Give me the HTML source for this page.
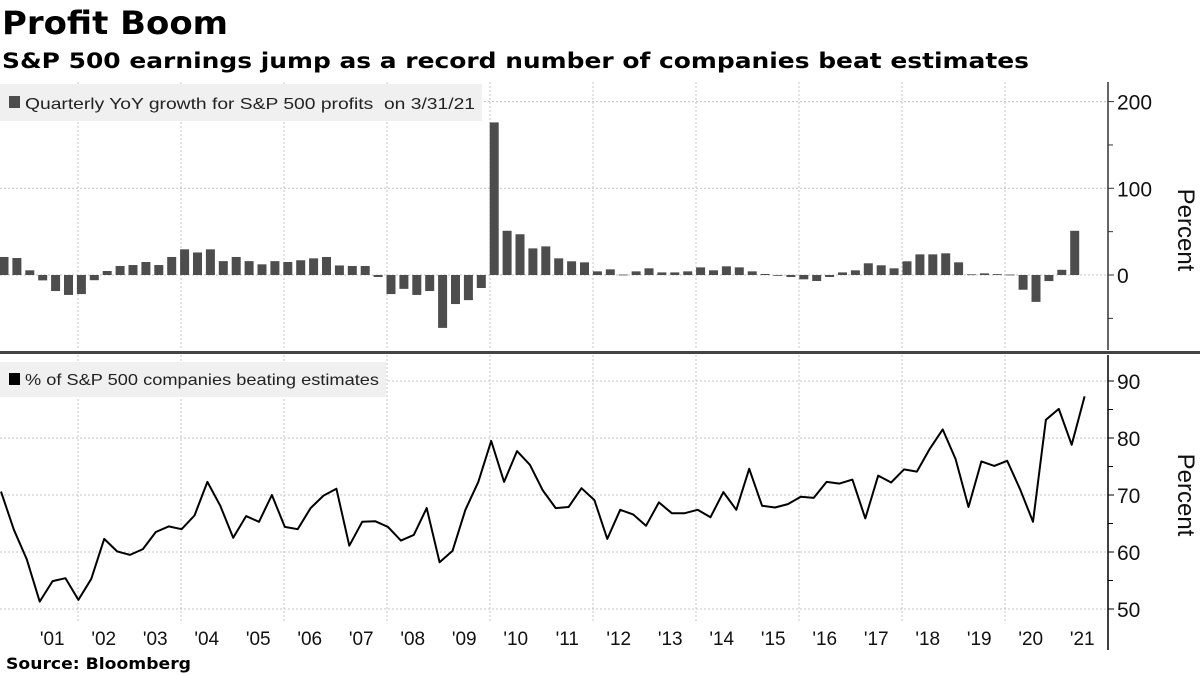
<!DOCTYPE html>
<html><head><meta charset="utf-8"><style>
html,body{margin:0;padding:0;background:#fff;}
svg{display:block;font-family:"Liberation Sans","DejaVu Sans",sans-serif;}
</style></head><body>
<svg id="chart" width="1200" height="675" viewBox="0 0 1200 675" xmlns="http://www.w3.org/2000/svg">
<text x="2" y="34" font-family="DejaVu Sans, sans-serif" font-weight="bold" font-size="32" textLength="226" lengthAdjust="spacingAndGlyphs">Profit Boom</text>
<text x="2" y="68" font-family="DejaVu Sans, sans-serif" font-weight="bold" font-size="21" textLength="1027" lengthAdjust="spacingAndGlyphs">S&amp;P 500 earnings jump as a record number of companies beat estimates</text>
<g id="grid"></g>
<rect x="0" y="84" width="482" height="37" fill="#f0f0f0"/>
<rect x="9" y="96" width="11" height="12" fill="#4d4d4d"/>
<text x="25" y="109" font-size="16" fill="#222" textLength="450" lengthAdjust="spacingAndGlyphs">Quarterly YoY growth for S&amp;P 500 profits&#160; on 3/31/21</text>
<g id="bars"></g>
<rect x="0" y="362" width="386" height="35" fill="#f0f0f0"/>
<rect x="9" y="373" width="11" height="12" fill="#000"/>
<text x="25" y="385" font-size="16" fill="#222" textLength="354" lengthAdjust="spacingAndGlyphs">% of S&amp;P 500 companies beating estimates</text>
<path id="line" fill="none" stroke="#000" stroke-width="2" stroke-linejoin="round"/>
<g id="axes"></g>
<rect x="0" y="351" width="1200" height="3" fill="#444"/>
<text transform="translate(1178,230) rotate(90)" text-anchor="middle" font-size="24" fill="#111">Percent</text>
<text transform="translate(1178,495) rotate(90)" text-anchor="middle" font-size="24" fill="#111">Percent</text>
<text x="6" y="669" font-family="DejaVu Sans, sans-serif" font-weight="bold" font-size="16" textLength="185" lengthAdjust="spacingAndGlyphs">Source:  Bloomberg</text>
</svg>
<script>
const years = ['01','02','03','04','05','06','07','08','09','10','11','12','13','14','15','16','17','18','19','20','21'];
const topTicks = [200, 100, 0];
const topMinor = [150, 50, -50];
const bottomTicks = [90, 80, 70, 60, 50];
const bottomMinor = [85, 75, 65, 55];
const growth = [20.8,19.6,5.4,-6.2,-18.5,-23,-22,-6,4.6,10.4,11.5,15,11.5,20.8,29.6,26,29.6,16,20.8,16,12.3,16,15,17,19.2,20.8,11,10.4,10.4,-2.3,-22,-16,-23,-18.5,-61,-33.5,-29,-15,176,51,47,30.7,33,19.2,15.8,14.6,4.2,6.5,0.5,4.2,7.7,3,3,4.2,8.8,5.4,10,8.8,4.2,1.2,-0.5,-2.3,-5,-6.9,-2.3,3,5.4,13.5,11.2,7.7,15.8,23.8,23.8,25,14.6,0.8,1.9,1,0.5,-17,-31,-7,6,51];
const beatPct = [70.6,63.9,58.7,51.3,54.9,55.4,51.6,55.3,62.3,60.1,59.5,60.5,63.5,64.5,64.0,66.4,72.3,68.1,62.5,66.3,65.3,70.0,64.4,64.0,67.7,69.9,71.1,61.1,65.3,65.4,64.4,62.0,63.0,67.7,58.2,60.2,67.4,72.3,79.5,72.3,77.7,75.3,70.8,67.7,67.9,71.2,69.1,62.3,67.4,66.6,64.6,68.7,66.8,66.8,67.4,66.1,70.5,67.4,74.6,68.1,67.8,68.4,69.7,69.5,72.3,72.0,72.7,65.9,73.4,72.2,74.5,74.1,78.1,81.5,76.3,67.9,75.9,75.1,76.0,71.0,65.3,83.2,85.1,78.8,87.3];

const NS='http://www.w3.org/2000/svg';
function el(tag, attrs, parent){const e=document.createElementNS(NS,tag);for(const k in attrs)e.setAttribute(k,attrs[k]);parent.appendChild(e);return e;}
const yearX = y => -25 + (y - 2000) * 51.5;
const qX = i => 1 + i * 12.9;
const yTop = v => 275 - v * 0.867;
const yBot = v => 381 + (90 - v) * 5.7;

const grid = document.getElementById('grid');
for (let y = 2002; y <= 2020; y += 2) {
  const x = yearX(y);
  const g1 = el('line',{x1:x,x2:x,y1:82,y2:350,stroke:'#c4c4c4','stroke-dasharray':'2,2','stroke-width':1},grid);
  
  
  const g2 = el('line',{x1:x,x2:x,y1:355,y2:622,stroke:'#c4c4c4','stroke-dasharray':'2,2','stroke-width':1},grid);
  
  
}
topTicks.forEach(v=>{
  const g = el('line',{x1:0,x2:1108,y1:yTop(v),y2:yTop(v),stroke:'#c4c4c4','stroke-dasharray':'2,2'},grid);
  
  
});
bottomTicks.forEach(v=>{
  const g = el('line',{x1:0,x2:1108,y1:yBot(v),y2:yBot(v),stroke:'#c4c4c4','stroke-dasharray':'2,2'},grid);
  
  
});

const bars = document.getElementById('bars');
growth.forEach((v,i)=>{
  const cx = qX(i) + 3;
  const y0 = yTop(0), y1 = yTop(v);
  const r = el('rect',{x:cx-4.5,y:Math.min(y0,y1),width:9,height:Math.max(Math.abs(y1-y0),0.8),fill:'#4d4d4d'},bars);
  
  
});

document.getElementById('line').setAttribute('d', beatPct.map((v,i)=>(i?'L':'M')+qX(i).toFixed(1)+' '+yBot(v).toFixed(1)).join(' '));

const axes = document.getElementById('axes');
el('line',{x1:1108,x2:1108,y1:82,y2:350,stroke:'#333','stroke-width':1.5},axes);
el('line',{x1:1108,x2:1108,y1:355,y2:650,stroke:'#000','stroke-width':1.5},axes);
topTicks.forEach(v=>{
  el('line',{x1:1108,x2:1114,y1:yTop(v),y2:yTop(v),stroke:'#333'},axes);
  const t = el('text',{x:1117,y:yTop(v)+8,'font-size':21,fill:'#111'},axes);
  t.textContent = v;
  
  
});
topMinor.forEach(v=>el('line',{x1:1108,x2:1113,y1:yTop(v),y2:yTop(v),stroke:'#333'},axes));
bottomTicks.forEach(v=>{
  el('line',{x1:1108,x2:1114,y1:yBot(v),y2:yBot(v),stroke:'#000'},axes);
  const t = el('text',{x:1117,y:yBot(v)+8,'font-size':21,fill:'#111'},axes);
  t.textContent = v;
  
  
});
bottomMinor.forEach(v=>el('line',{x1:1108,x2:1113,y1:yBot(v),y2:yBot(v),stroke:'#000'},axes));
years.forEach((lab,i)=>{
  const t = el('text',{x:yearX(2001+i+0.5),y:645,'font-size':19,'text-anchor':'middle',fill:'#111'},axes);
  t.textContent = "'" + lab;
  
  
});
</script>
</body></html>
